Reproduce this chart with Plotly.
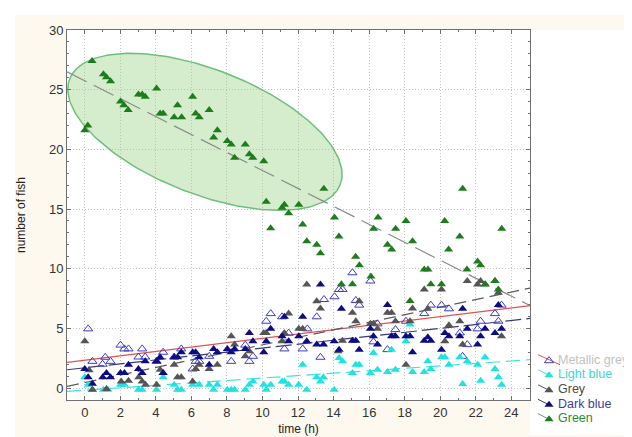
import numpy as np
import plotly.graph_objects as go

# ---------------- data ----------------
metallic_x = [0.19, 0.43, 1.0, 1.15, 1.45, 2.01, 2.23, 2.46, 3.02, 3.23, 3.4, 4.04, 4.41, 5.03, 5.43,
              6.07, 6.24, 6.44, 7.0, 8.24, 9.03, 9.26, 9.46, 10.21, 10.46, 11.1, 11.23, 11.47, 12.26,
              12.52, 13.05, 13.26, 13.46, 14.05, 14.31, 14.5, 15.06, 15.25, 15.44, 16.07, 16.24, 16.47,
              17.03, 17.48, 18.07, 19.1, 19.47, 20.07, 20.49, 21.1, 21.26, 21.52, 22.1, 22.27, 23.08,
              23.27, 23.45]
metallic_y = [4.96, 2.24, 2.0, 2.58, 2.24, 3.6, 3.28, 3.28, 2.6, 3.28, 2.6, 2.24, 3.0, 2.6, 3.28,
              1.6, 2.24, 2.24, 2.66, 2.24, 3.6, 2.24, 2.66, 5.6, 6.24, 5.97, 3.28, 4.6, 3.28,
              4.96, 5.97, 2.58, 7.42, 7.65, 8.26, 8.26, 9.66, 7.34, 6.95, 8.97, 3.87, 5.38,
              3.22, 4.9, 5.6, 6.24, 6.95, 6.95, 6.64, 4.62, 2.66, 3.64, 4.96, 5.6, 6.24,
              5.6, 6.95]

lightblue_x = [0, 0.19, 0.43, 1.05, 1.3, 2.01, 2.23, 3.02, 3.23, 4.04, 4.41, 5.03, 5.22, 5.43, 6.07,
               6.44, 7.0, 7.25, 7.46, 8.02, 8.24, 8.43, 9.03, 9.26, 9.46, 10.07, 10.21, 10.46, 11.1,
               11.23, 11.47, 12.04, 12.26, 12.49, 13.05, 13.26, 13.43, 14.03, 14.31, 14.5, 15.06,
               15.25, 15.44, 16.07, 16.24, 16.47, 17.03, 17.26, 17.48, 18.07, 18.3, 18.44, 19.1,
               19.3, 19.47, 20.07, 20.26, 20.49, 21.1, 21.26, 21.52, 22.1, 22.27, 22.52, 23.08,
               23.27, 23.45]
lightblue_y = [0.9, 0.28, -0.14, -0.14, -0.14, 0.28, 0.28, -0.14, -0.14, -0.14, 0.9, 0.28, -0.14, -0.14, 0.28,
               0.28, 0.28, -0.14, 0.28, -0.14, -0.14, -0.14, -0.14, 0.28, 0.56, 0.28, -0.14, 0.28, 0.56,
               0.56, 0.28, 0.28, 1.96, -0.14, 0.9, 0.56, 0.9, -0.14, 2.52, 2.24, 1.26,
               1.96, 1.96, 1.26, 2.94, 1.54, 1.34, 3.22, 1.54, 3.92, 5.32, 1.34, 1.34,
               2.24, 1.6, 2.58, 2.58, 1.96, 2.58, 0.34, 2.24, 1.96, 0.62, 2.58, 1.6,
               0.9, 0.28]

grey_x = [0, 0.25, 0.43, 1.22, 2.05, 2.46, 3.04, 3.23, 3.42, 4.04, 4.24, 4.41, 5.03, 5.22, 5.43,
          6.07, 6.24, 6.44, 7.0, 7.46, 8.24, 8.43, 9.03, 9.26, 10.07, 10.21, 11.1, 11.23, 11.47,
          12.04, 12.26, 12.49, 13.05, 13.26, 14.25, 14.5, 15.06, 15.25, 15.44, 16.07, 16.24, 16.47,
          17.03, 17.26, 17.48, 18.07, 18.3, 18.44, 19.1, 19.3, 20.07, 20.26, 20.49, 21.1, 21.26,
          21.52, 22.1, 22.27, 22.52, 23.08, 23.27, 23.45]
grey_y = [3.92, 1.5, -0.14, -0.08, 0.56, 0.62, 0.9, 0.56, 0.28, 0.28, 1.54, 1.26, 1.96, 0.9, 0.9,
          0.56, 1.6, 1.96, 1.6, 1.96, 4.34, 3.64, 2.66, 3.08, 4.62, 4.62, 3.92, 4.62, 6.24,
          4.96, 4.96, 8.68, 7.28, 6.66, 3.08, 3.97, 6.3, 5.6, 7.28, 5.38, 5.38, 4.96,
          6.3, 6.3, 5.6, 1.96, 5.6, 6.66, 8.26, 6.64, 8.26, 3.92, 5.27, 5.6, 3.64,
          8.97, 8.68, 8.97, 8.68, 8.97, 7.98, 4.34]

darkblue_x = [0, 0.19, 0.43, 1.01, 1.22, 1.45, 2.01, 2.23, 2.46, 3.02, 3.23, 3.4, 4.04, 4.24, 4.41,
              5.03, 5.22, 5.43, 6.07, 6.24, 6.44, 7.0, 7.25, 7.46, 8.02, 8.24, 8.43, 9.03, 9.26,
              9.46, 10.07, 10.21, 10.46, 11.1, 11.23, 11.47, 12.04, 12.26, 12.49, 13.05, 13.26,
              13.43, 14.03, 14.31, 14.44, 15.06, 15.25, 15.44, 16.07, 16.24, 16.47, 17.03, 17.26,
              17.48, 18.07, 18.3, 18.44, 19.1, 19.3, 19.47, 20.07, 20.26, 20.49, 21.1, 21.26,
              21.52, 22.1, 22.27, 22.52, 23.08, 23.27, 23.45]
darkblue_y = [1.6, 0.9, 0.36, 0.9, 1.26, 0.9, 1.26, 1.26, 1.96, 1.6, 1.26, 2.24, 2.24, 2.58, 1.26,
              2.58, 2.58, 3.0, 3.0, 3.0, 2.58, 1.96, 3.28, 3.0, 3.28, 3.0, 3.28, 3.28, 4.62,
              3.92, 3.0, 3.92, 4.96, 4.34, 5.97, 3.92, 4.34, 5.97, 3.92, 3.64, 8.68,
              3.64, 3.92, 3.22, 6.64, 3.97, 3.97, 3.22, 4.98, 4.34, 3.64, 6.95, 4.34,
              4.34, 4.34, 4.34, 3.0, 3.97, 4.25, 3.97, 3.22, 4.62, 4.34, 4.34, 6.64,
              4.96, 3.64, 4.34, 4.96, 4.62, 6.95, 4.96]

green_x = [0, 0.17, 0.41, 1.05, 1.22, 1.45, 2.01, 2.2, 2.44, 3.02, 3.23, 3.4, 4.04, 4.24, 4.41,
           5.03, 5.22, 5.45, 6.07, 6.24, 6.44, 7.0, 7.25, 7.46, 8.02, 8.24, 8.43, 9.03, 9.26,
           9.45, 10.07, 10.21, 10.46, 11.1, 11.23, 11.47, 12.04, 12.26, 12.49, 13.05, 13.26,
           13.45, 14.05, 14.3, 14.44, 15.06, 15.24, 15.45, 16.1, 16.25, 16.5, 17.03, 17.27,
           17.49, 18.07, 18.3, 18.44, 19.1, 19.31, 19.47, 20.07, 20.25, 20.47, 21.1, 21.26,
           21.5, 22.1, 22.27, 22.53, 23.08, 23.27, 23.46]
green_y = [21.6, 22.0, 27.4, 26.3, 26.05, 25.7, 24.0, 23.7, 23.3, 24.6, 24.6, 24.4, 25.1, 23.0, 23.0,
           22.7, 23.7, 22.7, 24.4, 23.0, 22.7, 23.3, 21.0, 21.6, 20.7, 20.4, 19.3, 20.4, 19.6,
           19.3, 19.0, 15.6, 13.4, 15.1, 15.35, 14.65, 15.35, 13.7, 12.3, 12.0, 11.3,
           16.7, 14.3, 12.7, 8.7, 8.7, 11.0, 10.3, 9.35, 13.35, 14.3, 12.0, 11.6,
           13.35, 14.0, 7.3, 12.3, 9.94, 9.94, 8.7, 8.7, 14.0, 11.6, 12.7, 16.7,
           9.94, 10.6, 10.3, 8.7, 8.97, 8.26, 13.35]

# fitted straight lines (intercept, slope)
fit_metallic = (2.34, 0.182)
fit_lightblue = (-0.18, 0.102)
fit_grey = (0.46, 0.316)
fit_darkblue = (1.70, 0.165)
fit_green = (25.75, -0.752)

# ellipse around early green points: centre and two semi-axis vectors (data units)
ell_center = (6.76, 21.47)
ell_axis1 = (7.61, -4.43)
ell_axis2 = (-1.27, -4.86)

series_names = ["Metallic grey", "Light blue", "Grey", "Dark blue", "Green"]
x_ticks = list(range(0, 25, 2))
y_ticks = list(range(0, 31, 5))

# ---------------- layout / styling ----------------
W, H = 632, 437
M_L, M_T, M_B = 59, 22, 10          # page margins (px)
PLOT_RIGHT, PLOT_BOTTOM = 522, 392  # main plot box edges (px)
REG_W = W - M_L
REG_H = H - M_T - M_B
X_DOM = [0, (PLOT_RIGHT - M_L) / REG_W]
Y_DOM = [(H - M_B - PLOT_BOTTOM) / REG_H, 1]

X_RANGE = [-1.0, 25.05]
Y_RANGE = [-1.0, 30.0]
FONT = "Liberation Sans, Arial, sans-serif"

styles = {
    "Metallic grey": dict(sym="triangle-up-open", mcol="#3b3bd0", lcol="#e35050", dash="solid",
                          txt="#c2c2c2"),
    "Light blue": dict(sym="triangle-up", mcol="#1fe3e3", lcol="#3fe0e0", dash="14px,6px",
                       txt="#3fd4d4"),
    "Grey": dict(sym="triangle-up", mcol="#555555", lcol="#5a5a5a", dash="12px,6px",
                 txt="#4a4a4a"),
    "Dark blue": dict(sym="triangle-up", mcol="#0c0c84", lcol="#3a3a70", dash="16px,5px",
                      txt="#3d3d99"),
    "Green": dict(sym="triangle-up", mcol="#1d7d1d", lcol="#8a8a8a", dash="22px,8px",
                  txt="#2e8b2e"),
}

data = {
    "Metallic grey": (metallic_x, metallic_y, fit_metallic),
    "Light blue": (lightblue_x, lightblue_y, fit_lightblue),
    "Grey": (grey_x, grey_y, fit_grey),
    "Dark blue": (darkblue_x, darkblue_y, fit_darkblue),
    "Green": (green_x, green_y, fit_green),
}

fig = go.Figure()

# ellipse
t = np.linspace(0, 2 * np.pi, 200)
ex = ell_center[0] + ell_axis1[0] * np.cos(t) + ell_axis2[0] * np.sin(t)
ey = ell_center[1] + ell_axis1[1] * np.cos(t) + ell_axis2[1] * np.sin(t)
fig.add_trace(go.Scatter(x=ex, y=ey, mode="lines", fill="toself",
                         fillcolor="rgba(150,210,130,0.40)",
                         line=dict(color="#6cbf7c", width=1.5),
                         showlegend=False, hoverinfo="skip"))

# fit lines
xl = np.array(X_RANGE)
for name in series_names:
    b0, b1 = data[name][2]
    st = styles[name]
    fig.add_trace(go.Scatter(x=xl, y=b0 + b1 * xl, mode="lines",
                             line=dict(color=st["lcol"], width=1.2, dash=st["dash"]),
                             showlegend=False, hoverinfo="skip"))

# points
def marker_of(st):
    return dict(symbol=st["sym"], size=8, color=st["mcol"],
                line=dict(width=1 if "open" in st["sym"] else 0, color=st["mcol"]))

for name in series_names:
    xs, ys, _ = data[name]
    fig.add_trace(go.Scatter(x=xs, y=ys, mode="markers", showlegend=False,
                             marker=marker_of(styles[name])))

# ---------------- legend drawn on a hidden pixel-scaled axis ----------------
LEG_ROW_Y = [352.7, 367.2, 382.3, 396.8, 411.2]   # row centres (px)
LEG_SYM_X = 541
LEG_LINE_X0 = 530
LEG_TEXT_X = 550
for i, name in enumerate(series_names):
    st = styles[name]
    yc = LEG_ROW_Y[i]
    if name == "Metallic grey":
        lx, ly = [LEG_LINE_X0, LEG_SYM_X + 11], [yc - 6, yc + 4]
    else:
        lx, ly = [LEG_LINE_X0, LEG_SYM_X], [yc - 5.5, yc]
    fig.add_trace(go.Scatter(x=lx, y=ly, xaxis="x2", yaxis="y2", mode="lines",
                             line=dict(color=st["lcol"], width=1), showlegend=False,
                             hoverinfo="skip"))
    fig.add_trace(go.Scatter(x=[LEG_SYM_X], y=[yc], xaxis="x2", yaxis="y2", mode="markers",
                             marker=marker_of(st), showlegend=False, hoverinfo="skip"))
fig.add_trace(go.Scatter(x=[LEG_TEXT_X] * len(series_names), y=LEG_ROW_Y, xaxis="x2", yaxis="y2",
                         mode="text", text=series_names, textposition="middle right",
                         textfont=dict(family=FONT, size=12.5,
                                       color=[styles[n]["txt"] for n in series_names]),
                         cliponaxis=False, showlegend=False, hoverinfo="skip"))

axis_common = dict(showgrid=True, gridcolor="#c4c4c4", griddash="1px,2px", gridwidth=1,
                   zeroline=False, showline=True, linecolor="#707070", linewidth=1,
                   mirror="ticks", ticks="inside", ticklen=4, tickcolor="#707070",
                   tickfont=dict(family=FONT, size=13, color="#333333"))

fig.update_layout(
    width=W, height=H,
    margin=dict(l=M_L, r=0, t=M_T, b=M_B, autoexpand=False),
    paper_bgcolor="#fdf9ef", plot_bgcolor="white",
    font=dict(family=FONT),
    showlegend=False,
    xaxis=dict(domain=X_DOM, range=X_RANGE, tickvals=x_ticks,
               ticktext=[str(v) for v in x_ticks],
               title=dict(text="time (h)", font=dict(family=FONT, size=12, color="#222"),
                          standoff=6),
               minor=dict(dtick=1, tick0=0, ticks="inside", ticklen=2, tickcolor="#707070",
                          showgrid=False),
               **axis_common),
    yaxis=dict(domain=Y_DOM, range=Y_RANGE, tickvals=y_ticks,
               ticktext=[str(v) for v in y_ticks],
               title=dict(text="number of fish", font=dict(family=FONT, size=12, color="#222"),
                          standoff=20),
               minor=dict(dtick=1, tick0=0, ticks="inside", ticklen=2, tickcolor="#707070",
                          showgrid=False),
               **axis_common),
    xaxis2=dict(domain=[X_DOM[1], 1], range=[PLOT_RIGHT, W], visible=False, fixedrange=True),
    yaxis2=dict(domain=[0, 1], range=[H - M_B, M_T], visible=False, fixedrange=True,
                anchor="x2"),
    shapes=[
        dict(type="rect", xref="paper", yref="paper", x0=-0.2, x1=1.1,
             y0=(H - M_B - 7) / REG_H, y1=1.2, fillcolor="white", line=dict(width=0),
             layer="below"),
        dict(type="rect", xref="paper", yref="paper", x0=-0.2, x1=(7 - M_L) / REG_W,
             y0=-0.2, y1=1.2, fillcolor="white", line=dict(width=0), layer="below"),
        dict(type="rect", xref="x domain", yref="y domain", x0=0, x1=1, y0=0, y1=1,
             fillcolor="white", line=dict(width=0), layer="below"),
    ],
)
fig.update_layout(xaxis2_anchor="y2")

fig.write_html("out.html")
